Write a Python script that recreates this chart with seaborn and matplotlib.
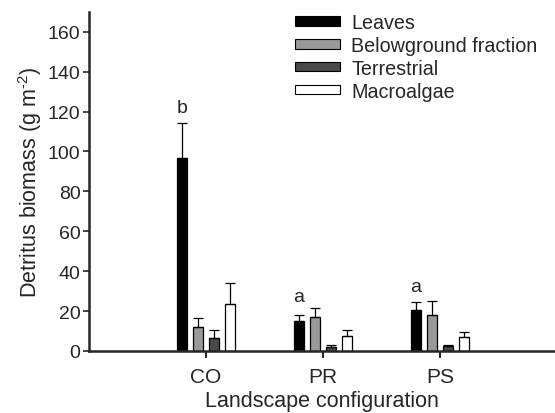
import numpy as np
import pandas as pd
import matplotlib
matplotlib.use("Agg")
import matplotlib.pyplot as plt
import seaborn as sns

categories = ["CO", "PR", "PS"]
series = ["Leaves", "Belowground fraction", "Terrestrial", "Macroalgae"]
leaves = [96.8, 15.2, 20.3]
leaves_err = [17.5, 2.8, 4.0]
below = [12.2, 17.0, 18.0]
below_err = [4.3, 4.6, 7.0]
terr = [6.4, 1.8, 2.6]
terr_err = [4.0, 1.4, 0.5]
macro = [23.6, 7.5, 7.0]
macro_err = [10.4, 2.9, 2.5]
letters = ["b", "a", "a"]
letter_y = [120, 25, 30]

colors = ["#000000", "#999999", "#4a4a4a", "#ffffff"]

sns.set_style("ticks")
plt.rcParams['font.family'] = ['Liberation Sans', 'DejaVu Sans']
plt.rcParams['mathtext.fontset'] = 'custom'
plt.rcParams['mathtext.rm'] = 'Liberation Sans'
plt.rcParams['mathtext.it'] = 'Liberation Sans:italic'
plt.rcParams['mathtext.bf'] = 'Liberation Sans:bold'

vals = [leaves, below, terr, macro]
errs = [leaves_err, below_err, terr_err, macro_err]
rows = []
for s, v, e in zip(series, vals, errs):
    for c, vv, ee in zip(categories, v, e):
        rows.append({"cat": c, "series": s, "value": vv, "err": ee})
df = pd.DataFrame(rows)

fig = plt.figure(figsize=(5.55, 4.14), dpi=100)
ax = fig.add_axes([0.16, 0.15, 0.84, 0.819])

sns.barplot(data=df, x="cat", y="value", hue="series", hue_order=series,
            order=categories, palette=colors, width=0.55, gap=0.38,
            errorbar=None, edgecolor="black", linewidth=0.9, ax=ax,
            saturation=1)

# error bars (upper only)
for i, (s, e) in enumerate(zip(series, errs)):
    cont = ax.containers[i]
    xs = [p.get_x() + p.get_width() / 2 for p in cont.patches]
    hs = [p.get_height() for p in cont.patches]
    ax.errorbar(xs, hs, yerr=[np.zeros(len(e)), e], fmt="none",
                ecolor="black", elinewidth=0.9, capsize=3.6, capthick=0.9,
                zorder=1)

# significance letters above the Leaves bars
cont = ax.containers[0]
for p, lab, ly in zip(cont.patches, letters, letter_y):
    ax.text(p.get_x() + p.get_width() / 2, ly, lab, ha="center",
            va="baseline", fontsize=14)

ax.set_xlim(-1, 2.98)
ax.set_ylim(0, 170)
ax.set_yticks(np.arange(0, 161, 20))
ax.tick_params(axis="y", labelsize=14, length=4, width=1.2, direction="out",
               pad=2)
ax.tick_params(axis="x", labelsize=15, length=5, width=1.5, direction="out",
               pad=6.5)
for sp in ["top", "right"]:
    ax.spines[sp].set_visible(False)
for sp in ["left", "bottom"]:
    ax.spines[sp].set_linewidth(1.8)
ax.set_xlabel("Landscape configuration", fontsize=15.5, labelpad=3)
ax.set_ylabel("Detritus biomass (g m$^{\\text{-2}}$)", fontsize=15.5,
              labelpad=3)

leg = ax.legend(loc="upper left", bbox_to_anchor=(295 / 555, 1 - 14 / 414),
                bbox_transform=fig.transFigure, frameon=False,
                fontsize=14.2, handlelength=2.3, handleheight=0.35,
                labelspacing=0.2, handletextpad=0.55, borderaxespad=0,
                borderpad=0)
for h in leg.legend_handles:
    h.set_edgecolor("black")
    h.set_linewidth(0.8)

fig.savefig("out.png", dpi=100)
